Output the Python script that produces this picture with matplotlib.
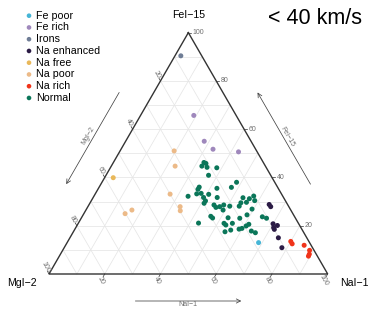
import numpy as np
import matplotlib.pyplot as plt

plt.rcParams["font.family"] = ["Liberation Sans", "DejaVu Sans"]

# ternary components in percent: FeI-15 (top), MgI-2 (left), NaI-1 (right)
groups = ["Fe poor", "Fe rich", "Irons", "Na enhanced", "Na free", "Na poor", "Na rich", "Normal"]
colors = ["#45b5d6", "#9f88bc", "#6f7d96", "#2b1b45", "#e9b85a", "#ecba88", "#f0341a", "#0b7659"]

fe_poor_fe = [13.0]
fe_poor_mg = [18.3]
fe_poor_na = [68.7]

fe_rich_fe = [65.7, 55.0, 51.7, 50.6]
fe_rich_mg = [15.2, 16.8, 15.3, 6.7]
fe_rich_na = [19.1, 28.2, 33.0, 42.7]

irons_fe = [90.4]
irons_mg = [7.5]
irons_na = [2.1]

na_enh_fe = [28.8, 27.9, 20.8, 20.1, 19.2, 18.5, 15.0, 10.9]
na_enh_mg = [6.6, 6.5, 9.2, 8.0, 9.8, 9.9, 10.2, 11.0]
na_enh_na = [64.6, 65.6, 70.0, 71.9, 71.0, 71.6, 74.8, 78.1]

na_free_fe = [39.9]
na_free_mg = [57.0]
na_free_na = [3.1]

na_poor_fe = [51.0, 44.7, 33.1, 27.9, 26.2, 26.5, 25.0]
na_poor_mg = [29.6, 32.4, 40.0, 39.0, 39.8, 57.0, 60.2]
na_poor_na = [19.4, 22.9, 26.9, 33.1, 34.0, 16.5, 14.8]

na_rich_fe = [13.5, 12.5, 11.9, 9.8, 8.2, 7.4]
na_rich_mg = [6.5, 6.5, 2.5, 1.6, 2.5, 3.2]
na_rich_na = [80.0, 81.0, 85.6, 88.6, 89.3, 89.4]

normal_fe = [46.2, 45.8, 44.7, 44.2, 44.0, 40.9, 38.0, 35.9, 36.0, 35.1,
             35.5, 32.2, 33.2, 33.4, 31.7, 33.0, 30.3, 29.3, 31.7, 31.6,
             31.2, 32.3, 30.4, 29.7, 28.6, 27.6, 28.6, 27.9, 28.1, 29.5,
             28.1, 26.5, 26.9, 23.9, 23.2, 23.3, 23.1, 21.1, 21.0, 20.3,
             21.0, 20.6, 19.9, 18.6, 18.9, 18.2, 17.5, 17.8, 17.1, 23.7,
             23.1, 24.5]
normal_mg = [21.3, 20.8, 22.8, 21.2, 17.8, 22.3, 13.7, 16.6, 28.1, 29.0,
             22.0, 34.0, 30.4, 28.7, 28.7, 26.2, 28.7, 29.7, 23.8, 14.6,
             12.5, 10.4, 11.0, 14.3, 26.5, 26.3, 23.0, 24.8, 21.1, 16.4,
             17.7, 24.3, 13.7, 30.0, 29.7, 24.1, 20.0, 35.8, 26.7, 26.4,
             23.7, 18.0, 19.3, 22.5, 21.3, 25.7, 28.1, 18.5, 17.4, 11.6,
             10.4, 16.7]
normal_na = [32.5, 33.4, 32.5, 34.6, 38.2, 36.8, 48.3, 47.5, 35.9, 35.9,
             42.5, 33.8, 36.4, 37.9, 39.6, 40.8, 41.0, 41.0, 44.5, 53.8,
             56.3, 57.3, 58.6, 56.0, 44.9, 46.1, 48.4, 47.3, 50.8, 54.1,
             54.2, 49.2, 59.4, 46.1, 47.1, 52.6, 56.9, 43.1, 52.3, 53.3,
             55.3, 61.4, 60.8, 58.9, 59.8, 56.1, 54.4, 63.7, 65.5, 64.7,
             66.5, 58.8]

series = [
    (fe_poor_fe, fe_poor_mg, fe_poor_na),
    (fe_rich_fe, fe_rich_mg, fe_rich_na),
    (irons_fe, irons_mg, irons_na),
    (na_enh_fe, na_enh_mg, na_enh_na),
    (na_free_fe, na_free_mg, na_free_na),
    (na_poor_fe, na_poor_mg, na_poor_na),
    (na_rich_fe, na_rich_mg, na_rich_na),
    (normal_fe, normal_mg, normal_na),
]

tick_vals = [20, 40, 60, 80, 100]

S = 278.7  # pixels per unit edge
X0, Y0 = 49.0, 274.0  # pixel position of the MgI-2 corner
H = np.sqrt(3) / 2


def tern(fe, mg, na):
    fe = np.asarray(fe, float)
    mg = np.asarray(mg, float)
    na = np.asarray(na, float)
    tot = fe + mg + na
    return na / tot + 0.5 * fe / tot, H * fe / tot


def px(x, y):
    return (x - X0) / S, (Y0 - y) / S


fig = plt.figure(figsize=(3.74, 3.13), dpi=100)
ax = fig.add_axes([0, 0, 1, 1])
ax.set_xlim(-X0 / S, (374 - X0) / S)
ax.set_ylim(-(313 - Y0) / S, Y0 / S)
ax.set_aspect("equal")
ax.axis("off")

# grid every 10 %
for v in np.arange(10, 100, 10):
    for a, b in [
        ((v, 100 - v, 0), (v, 0, 100 - v)),
        ((0, v, 100 - v), (100 - v, v, 0)),
        ((0, 100 - v, v), (100 - v, 0, v)),
    ]:
        xa, ya = tern(*a)
        xb, yb = tern(*b)
        ax.plot([xa, xb], [ya, yb], color="#e6e6e6", lw=0.55, zorder=1)

# outline
xs, ys = tern([100, 0, 0, 100], [0, 100, 0, 0], [0, 0, 100, 0])
ax.plot(xs, ys, color="#333333", lw=1.0, zorder=2, solid_joinstyle="miter")

tick_len = 3.0 / S
lab_off = 7.5 / S
tcol = "#6e6e6e"
tfs = 5.0
for v in tick_vals:
    # bottom: NaI-1
    bx, by = tern(0, 100 - v, v)
    d = np.deg2rad(240)
    ax.plot([bx, bx + tick_len * np.cos(d)], [by, by + tick_len * np.sin(d)], color="#333333", lw=0.5)
    ax.text(bx + lab_off * np.cos(d), by + lab_off * np.sin(d), str(v), fontsize=tfs,
            color=tcol, rotation=-60, ha="center", va="center")
    # left: MgI-2
    lx, ly = tern(100 - v, v, 0)
    d = np.deg2rad(120)
    ax.plot([lx, lx + tick_len * np.cos(d)], [ly, ly + tick_len * np.sin(d)], color="#333333", lw=0.5)
    ax.text(lx + lab_off * np.cos(d), ly + lab_off * np.sin(d), str(v), fontsize=tfs,
            color=tcol, rotation=-60, ha="center", va="center")
    # right: FeI-15
    rx, ry = tern(v, 0, 100 - v)
    ax.plot([rx, rx + tick_len], [ry, ry], color="#333333", lw=0.5)
    ax.text(rx + 4.5 / S, ry, str(v), fontsize=tfs, color=tcol, ha="left", va="center")

# axis arrows
arrow_kw = dict(arrowstyle="->,head_length=0.3,head_width=0.15", color="#444444", lw=0.55)


def edge_pt(p, q, f, off, ang):
    a = np.array(tern(*p))
    b = np.array(tern(*q))
    c = a + (b - a) * f
    d = np.deg2rad(ang)
    return c + off / S * np.array([np.cos(d), np.sin(d)])


# left edge (towards MgI-2 corner)
s = edge_pt((100, 0, 0), (0, 100, 0), 0.3, 30, 150)
e = edge_pt((100, 0, 0), (0, 100, 0), 0.7, 30, 150)
ax.annotate("", xy=e, xytext=s, arrowprops=arrow_kw)
m = edge_pt((100, 0, 0), (0, 100, 0), 0.5, 35, 150)
ax.text(m[0], m[1], "MgI\u22122", fontsize=tfs, color=tcol, rotation=60, ha="center", va="center")

# right edge (towards FeI-15 corner)
s = edge_pt((0, 0, 100), (100, 0, 0), 0.3, 30, 30)
e = edge_pt((0, 0, 100), (100, 0, 0), 0.7, 30, 30)
ax.annotate("", xy=e, xytext=s, arrowprops=arrow_kw)
m = edge_pt((0, 0, 100), (100, 0, 0), 0.5, 33.5, 30)
ax.text(m[0], m[1], "FeI\u221215", fontsize=tfs, color=tcol, rotation=-60, ha="center", va="center")

# bottom edge (towards NaI-1 corner)
s = edge_pt((0, 100, 0), (0, 0, 100), 0.3, 27, 270)
e = edge_pt((0, 100, 0), (0, 0, 100), 0.7, 27, 270)
ax.annotate("", xy=e, xytext=s, arrowprops=arrow_kw)
m = edge_pt((0, 100, 0), (0, 0, 100), 0.5, 31, 270)
ax.text(m[0], m[1], "NaI\u22121", fontsize=tfs, color=tcol, ha="center", va="center")

# vertex labels
ax.text(*px(188.3, 15.5), "FeI\u221215", fontsize=7.6, ha="center", va="center")
ax.text(*px(22, 283), "MgI\u22122", fontsize=7.6, ha="center", va="center")
ax.text(*px(354, 282.5), "NaI\u22121", fontsize=7.6, ha="center", va="center")

# points
for (fe, mg, na), col in zip(series, colors):
    x, y = tern(fe, mg, na)
    ax.scatter(x, y, s=13, color=col, edgecolors="none", zorder=3)

# legend
for i, (name, col) in enumerate(zip(groups, colors)):
    yy = 15.7 + i * 11.75
    ax.scatter(*px(29, yy), s=11, color=col, edgecolors="none")
    ax.text(*px(36, yy), name, fontsize=7.7, ha="left", va="center")

ax.text(*px(315, 18.5), "< 40 km/s", fontsize=15.5, ha="center", va="center")

fig.savefig("out.png", dpi=100)
